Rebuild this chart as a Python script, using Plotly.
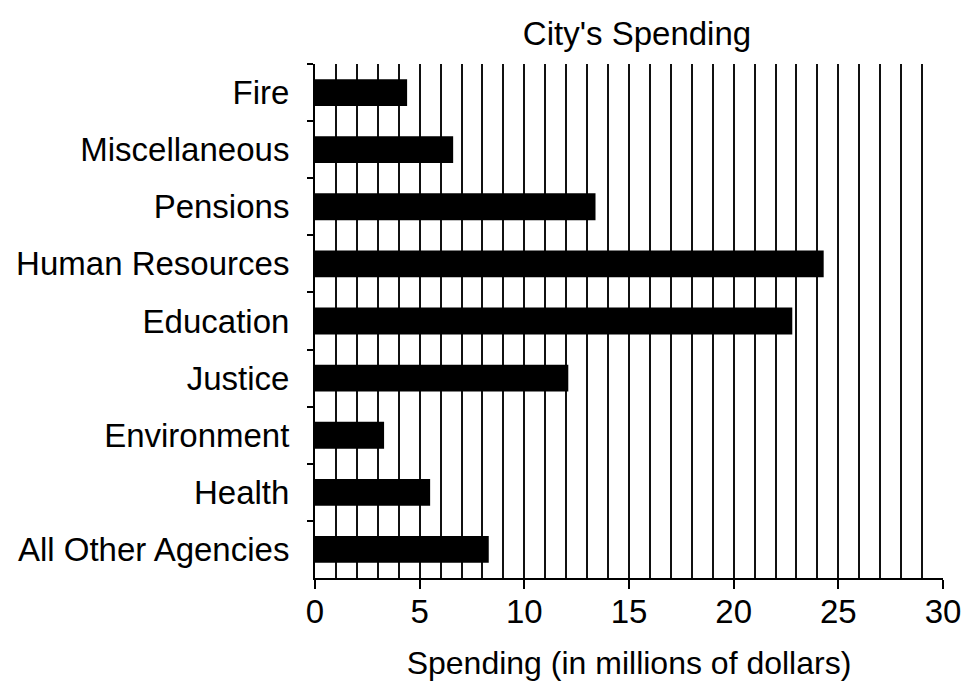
import plotly.graph_objects as go

# City's spending by agency (millions of dollars), top to bottom
agencies = ["Fire", "Miscellaneous", "Pensions", "Human Resources", "Education",
            "Justice", "Environment", "Health", "All Other Agencies"]
spending = [4.4, 6.6, 13.4, 24.3, 22.8, 12.1, 3.3, 5.5, 8.3]

x_ticks = [0, 5, 10, 15, 20, 25, 30]
grid_vals = list(range(1, 30))  # vertical lines at every million, none at 30

font = "Liberation Sans, Arial, sans-serif"

fig = go.Figure()

fig.add_trace(go.Bar(
    x=spending, y=agencies, orientation='h',
    marker=dict(color='black', line=dict(width=0)),
    width=0.47, showlegend=False, xaxis='x2'
))

# empty trace so the grid-only axis gets drawn
fig.add_trace(go.Scatter(x=[], y=[], xaxis='x', yaxis='y', showlegend=False,
                         hoverinfo='skip'))

fig.update_layout(
    title=dict(text="City's Spending", x=637 / 965, xanchor='center', xref='container',
               y=0.952, yref='container', yanchor='middle',
               font=dict(size=33, color='black')),
    font=dict(family=font, size=33, color='black'),
    width=965, height=691,
    margin=dict(l=315, r=22, t=64, b=113, autoexpand=False),
    plot_bgcolor='white', paper_bgcolor='white',
    # grid-only axis (lines at each unit)
    xaxis=dict(
        range=[0, 30], tickvals=grid_vals, showticklabels=False, ticks='',
        showgrid=True, gridcolor='#111', gridwidth=2,
        showline=False, zeroline=False,
    ),
    # labelled axis
    xaxis2=dict(
        overlaying='x', anchor='y', side='bottom', range=[0, 30],
        tickvals=x_ticks, ticktext=[str(v) for v in x_ticks],
        ticks='outside', ticklen=9, tickwidth=2, tickcolor='black',
        showline=True, linecolor='black', linewidth=2,
        showgrid=False, zeroline=False, automargin=False,
        ticklabelstandoff=-6,
        tickfont=dict(size=33),
        title=dict(text="Spending (in millions of dollars)", standoff=23,
                   font=dict(size=32)),
    ),
    yaxis=dict(
        categoryorder='array', categoryarray=agencies, autorange='reversed',
        tickson='boundaries', ticks='outside', ticklen=6, tickwidth=2,
        tickcolor='black', showline=True, linecolor='black', linewidth=2,
        showgrid=False, zeroline=False, automargin=False,
        ticklabelstandoff=17,
        tickfont=dict(size=33),
    ),
)

# drop the default body margin so the figure sits at the window's corner
fig.write_html("out.html", config={'displayModeBar': False},
               post_script="document.body.style.margin='0';")
